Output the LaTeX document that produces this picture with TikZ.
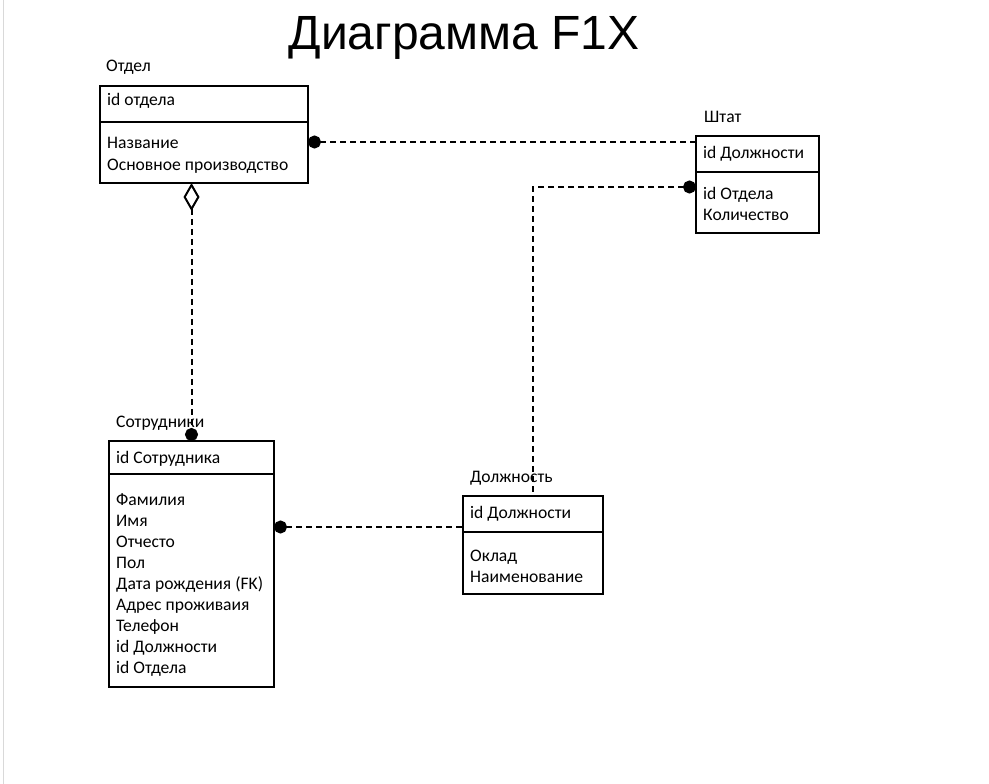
\documentclass[tikz,border=0pt]{standalone}
\usepackage{fontspec}
\setmainfont{Carlito}
\newfontfamily\titlefont{Liberation Sans}
\usetikzlibrary{arrows.meta}
\tikzset{
  x=1pt, y=-1pt,
  entity/.style={draw, line width=1.1pt, inner sep=0pt, outer sep=0pt, anchor=north west},
  divider/.style={line width=1.1pt},
  txt/.style={anchor=base west, inner sep=0pt, font=\fontsize{17.6}{21}\selectfont},
  conn/.style={line width=2pt, dash pattern=on 6pt off 4pt},
  dot/.tip={Circle[length=13pt, width=13pt]},
  agg/.tip={Diamond[open, length=28pt, width=16pt, line width=2pt]},
}
\begin{document}
\begin{tikzpicture}
\useasboundingbox (0,0) rectangle (989,784);
\draw[gray!30, line width=1.5pt] (3.5,0) -- (3.5,784);

\node[anchor=base, inner sep=0pt, font=\titlefont\fontsize{48}{56}\selectfont] (title) at (464,50) {Диаграмма F1X};

% Отдел
\node[entity, minimum width=208pt, minimum height=97pt] (otdel) at (100,86) {};
\draw[divider] (100,122) -- (308,122);
\node[txt] (otdelL) at (106,72) {Отдел};
\node[txt] (otdel1) at (107,106) {id отдела};
\node[txt] (otdel2) at (107,149) {Название};
\node[txt] (otdel3) at (107,170) {Основное производство};

% Штат
\node[entity, minimum width=123pt, minimum height=97pt] (shtat) at (696,136) {};
\draw[divider] (696,172) -- (819,172);
\node[txt] (shtatL) at (704,122) {Штат};
\node[txt] (shtat1) at (703,158) {id Должности};
\node[txt] (shtat2) at (703,199) {id Отдела};
\node[txt] (shtat3) at (703,220) {Количество};

% Сотрудники
\node[entity, minimum width=165pt, minimum height=246pt] (sotr) at (109,441) {};
\draw[divider] (109,474) -- (274,474);
\node[txt] (sotrL) at (116,427) {Сотрудники};
\node[txt] (sotr1) at (116,463) {id Сотрудника};
\node[txt] (sotr2) at (116,505) {Фамилия};
\node[txt] (sotr3) at (116,526) {Имя};
\node[txt] (sotr4) at (116,547) {Отчесто};
\node[txt] (sotr5) at (116,568) {Пол};
\node[txt] (sotr6) at (116,589) {Дата рождения (FK)};
\node[txt] (sotr7) at (116,610) {Адрес проживаия};
\node[txt] (sotr8) at (116,631) {Телефон};
\node[txt] (sotr9) at (116,652) {id Должности};
\node[txt] (sotr10) at (116,673) {id Отдела};

% Должность
\node[entity, minimum width=140pt, minimum height=98pt] (dolzh) at (463,496) {};
\draw[divider] (463,532) -- (603,532);
\node[txt] (dolzhL) at (470,482) {Должность};
\node[txt] (dolzh1) at (470,518) {id Должности};
\node[txt] (dolzh2) at (470,561) {Оклад};
\node[txt] (dolzh3) at (470,582) {Наименование};

% connectors
\coordinate (c1) at ([yshift=-56pt]otdel.north east);
\draw[conn, {dot}-] (c1) -- (c1 -| shtat.west);
\coordinate (c2) at ([yshift=-51pt]shtat.north west);
\draw[conn, {dot}-] (c2) -| (dolzh.north);
\draw[conn, {agg}-{dot}] (sotr.north |- otdel.south) -- (sotr.north);
\coordinate (c4) at ([yshift=-31pt]dolzh.north west);
\draw[conn, {dot}-] (c4 -| sotr.east) -- (c4);
\end{tikzpicture}
\end{document}
